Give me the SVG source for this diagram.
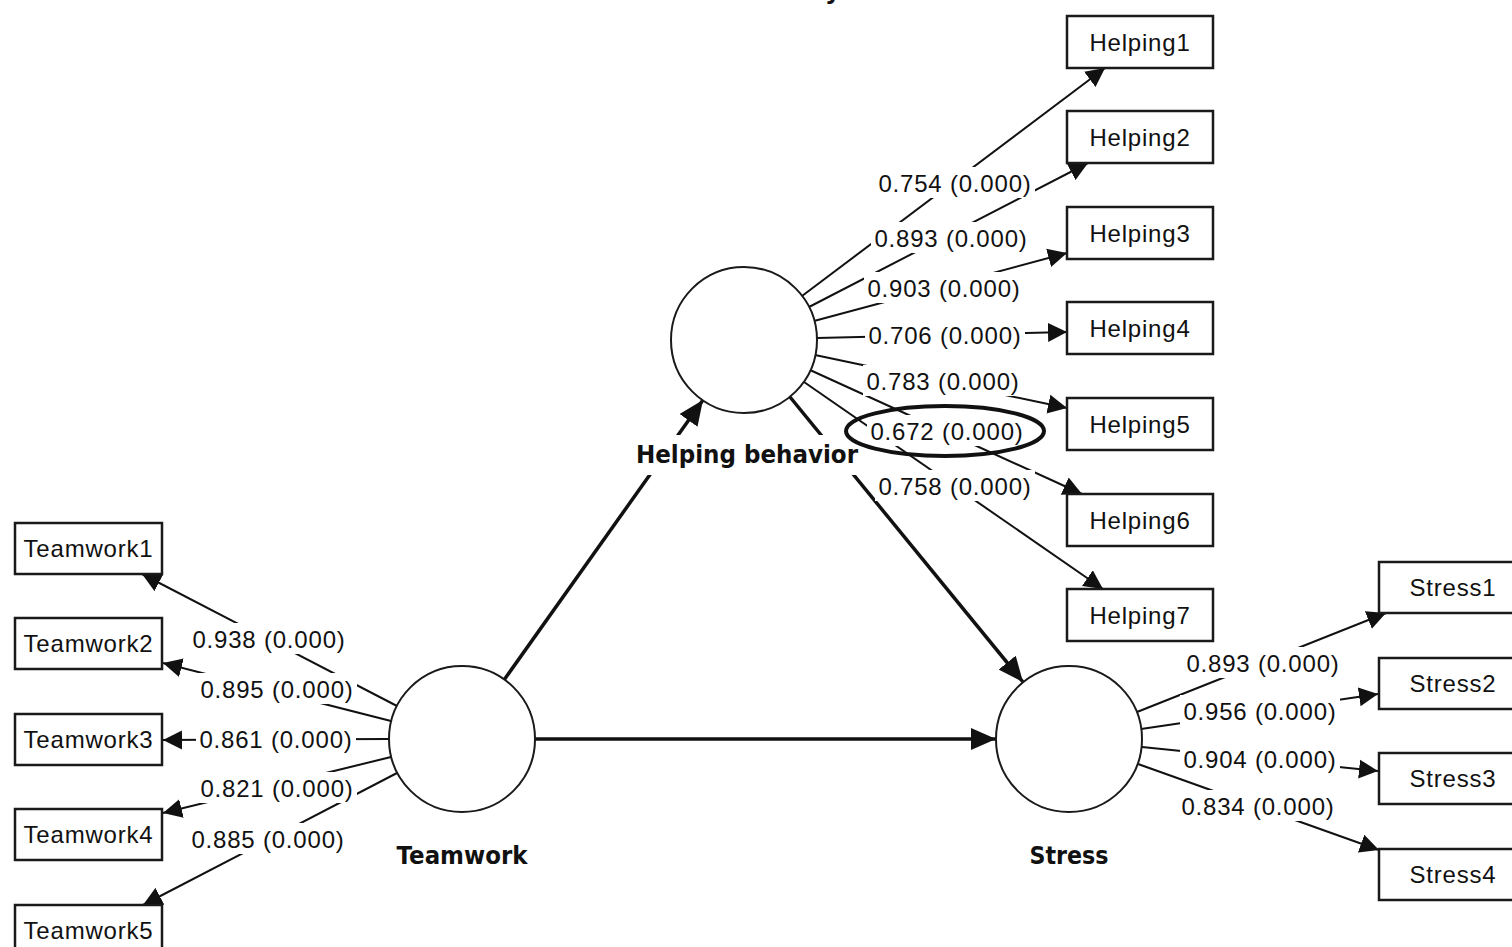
<svg xmlns="http://www.w3.org/2000/svg" width="1512" height="947" viewBox="0 0 1512 947">
  <style>
    .box { fill: #fff; stroke: #1a1a1a; stroke-width: 2.5; }
    .lv { fill: #fff; stroke: #1a1a1a; stroke-width: 2; }
    .name { font-family: "Liberation Sans", Arial, sans-serif; font-size: 24px; letter-spacing: 0.8px; text-anchor: middle; fill: #111; }
    .lbl { font-family: "Liberation Sans", Arial, sans-serif; font-size: 24px; letter-spacing: 0.8px; text-anchor: middle; fill: #111; }
    .bold { font-family: "DejaVu Sans", Verdana, sans-serif; font-weight: bold; font-size: 24px; text-anchor: middle; fill: #111; }
    .load { stroke: #111; stroke-width: 2; fill: none; marker-end: url(#ah); }
    .path { stroke: #111; stroke-width: 3.5; fill: none; marker-end: url(#ahb); }
    .bg { fill: #fff; }
  </style>
  <defs>
    <marker id="ah" markerUnits="userSpaceOnUse" markerWidth="20" markerHeight="20" viewBox="0 0 20 20" refX="19" refY="10" orient="auto">
      <path d="M0,0.5 L19,10 L0,19.5 z" fill="#111"/>
    </marker>
    <marker id="ahb" markerUnits="userSpaceOnUse" markerWidth="26" markerHeight="22" viewBox="0 0 26 22" refX="25" refY="11" orient="auto">
      <path d="M0,0 L25,11 L0,22 z" fill="#111"/>
    </marker>
  </defs>

  <rect width="1512" height="947" fill="#fff"/>

  <!-- title, cut off at the top edge -->
  <text x="825" y="-1" class="bold" style="text-anchor:start">y</text>

  <g id="connectors">
    <!-- structural paths -->
    <line class="path" x1="504" y1="680" x2="703" y2="400"/>
    <line class="path" x1="790" y1="397" x2="1023" y2="682"/>
    <line class="path" x1="535" y1="739" x2="996" y2="739"/>
    <!-- Helping behavior loadings -->
    <line class="load" x1="802" y1="296" x2="1105" y2="68"/>
    <line class="load" x1="809" y1="307" x2="1088" y2="163"/>
    <line class="load" x1="814" y1="321" x2="1067" y2="253"/>
    <line class="load" x1="817" y1="338" x2="1067" y2="332"/>
    <line class="load" x1="815" y1="355" x2="1067" y2="408"/>
    <line class="load" x1="810" y1="370" x2="1082" y2="494"/>
    <line class="load" x1="804" y1="382" x2="1103" y2="589"/>
    <!-- Teamwork loadings -->
    <line class="load" x1="397" y1="706" x2="142" y2="574"/>
    <line class="load" x1="391" y1="721" x2="163" y2="663"/>
    <line class="load" x1="389" y1="739" x2="163" y2="740"/>
    <line class="load" x1="391" y1="757" x2="163" y2="813"/>
    <line class="load" x1="397" y1="773" x2="143" y2="905"/>
    <!-- Stress loadings -->
    <line class="load" x1="1137" y1="712" x2="1386" y2="613"/>
    <line class="load" x1="1141" y1="729" x2="1378" y2="694"/>
    <line class="load" x1="1142" y1="747" x2="1378" y2="771"/>
    <line class="load" x1="1138" y1="764" x2="1379" y2="850"/>
  </g>

  <!-- label backgrounds break the lines behind them -->
  <g id="label-backs" class="bg">
    <rect x="875" y="167" width="160" height="31"/>
    <rect x="871" y="222" width="160" height="31"/>
    <rect x="864" y="272" width="160" height="31"/>
    <rect x="865" y="319" width="160" height="31"/>
    <rect x="863" y="365" width="160" height="31"/>
    <rect x="867" y="415" width="160" height="31"/>
    <rect x="875" y="470" width="160" height="31"/>
    <rect x="189" y="623" width="160" height="31"/>
    <rect x="197" y="673" width="160" height="31"/>
    <rect x="196" y="723" width="160" height="31"/>
    <rect x="197" y="772" width="160" height="31"/>
    <rect x="188" y="823" width="160" height="31"/>
    <rect x="1183" y="647" width="160" height="31"/>
    <rect x="1180" y="695" width="160" height="31"/>
    <rect x="1180" y="743" width="160" height="31"/>
    <rect x="1178" y="790" width="160" height="31"/>
    <rect x="630" y="435" width="236" height="40"/>
  </g>

  <g id="loading-labels">
    <text class="lbl" x="955" y="192">0.754 (0.000)</text>
    <text class="lbl" x="951" y="247">0.893 (0.000)</text>
    <text class="lbl" x="944" y="297">0.903 (0.000)</text>
    <text class="lbl" x="945" y="344">0.706 (0.000)</text>
    <text class="lbl" x="943" y="390">0.783 (0.000)</text>
    <text class="lbl" x="947" y="440">0.672 (0.000)</text>
    <text class="lbl" x="955" y="495">0.758 (0.000)</text>
    <text class="lbl" x="269" y="648">0.938 (0.000)</text>
    <text class="lbl" x="277" y="698">0.895 (0.000)</text>
    <text class="lbl" x="276" y="748">0.861 (0.000)</text>
    <text class="lbl" x="277" y="797">0.821 (0.000)</text>
    <text class="lbl" x="268" y="848">0.885 (0.000)</text>
    <text class="lbl" x="1263" y="672">0.893 (0.000)</text>
    <text class="lbl" x="1260" y="720">0.956 (0.000)</text>
    <text class="lbl" x="1260" y="768">0.904 (0.000)</text>
    <text class="lbl" x="1258" y="815">0.834 (0.000)</text>
  </g>

  <!-- highlight around one loading -->
  <ellipse cx="945" cy="431" rx="99" ry="25" fill="none" stroke="#111" stroke-width="4"/>

  <!-- latent variables -->
  <g id="helping-behavior">
    <circle class="lv" cx="744" cy="340" r="73"/>
    <text class="bold" x="747" y="463" textLength="222" lengthAdjust="spacingAndGlyphs">Helping behavior</text>
  </g>
  <g id="teamwork">
    <circle class="lv" cx="462" cy="739" r="73"/>
    <text class="bold" x="462" y="864" textLength="131" lengthAdjust="spacingAndGlyphs">Teamwork</text>
  </g>
  <g id="stress">
    <circle class="lv" cx="1069" cy="739" r="73"/>
    <text class="bold" x="1069" y="864" textLength="79" lengthAdjust="spacingAndGlyphs">Stress</text>
  </g>

  <!-- indicators -->
  <g id="helping1"><rect class="box" x="1067" y="16" width="146" height="52"/><text class="name" x="1140" y="50.5">Helping1</text></g>
  <g id="helping2"><rect class="box" x="1067" y="111" width="146" height="52"/><text class="name" x="1140" y="145.5">Helping2</text></g>
  <g id="helping3"><rect class="box" x="1067" y="207" width="146" height="52"/><text class="name" x="1140" y="241.5">Helping3</text></g>
  <g id="helping4"><rect class="box" x="1067" y="302" width="146" height="52"/><text class="name" x="1140" y="336.5">Helping4</text></g>
  <g id="helping5"><rect class="box" x="1067" y="398" width="146" height="52"/><text class="name" x="1140" y="432.5">Helping5</text></g>
  <g id="helping6"><rect class="box" x="1067" y="494" width="146" height="52"/><text class="name" x="1140" y="528.5">Helping6</text></g>
  <g id="helping7"><rect class="box" x="1067" y="589" width="146" height="52"/><text class="name" x="1140" y="623.5">Helping7</text></g>

  <g id="teamwork1"><rect class="box" x="15" y="523" width="147" height="51"/><text class="name" x="88.5" y="557">Teamwork1</text></g>
  <g id="teamwork2"><rect class="box" x="15" y="618" width="147" height="51"/><text class="name" x="88.5" y="652">Teamwork2</text></g>
  <g id="teamwork3"><rect class="box" x="15" y="714" width="147" height="51"/><text class="name" x="88.5" y="748">Teamwork3</text></g>
  <g id="teamwork4"><rect class="box" x="15" y="809" width="147" height="51"/><text class="name" x="88.5" y="843">Teamwork4</text></g>
  <g id="teamwork5"><rect class="box" x="15" y="905" width="147" height="51"/><text class="name" x="88.5" y="939">Teamwork5</text></g>

  <g id="stress1"><rect class="box" x="1379" y="562" width="148" height="51"/><text class="name" x="1453" y="596">Stress1</text></g>
  <g id="stress2"><rect class="box" x="1379" y="658" width="148" height="51"/><text class="name" x="1453" y="692">Stress2</text></g>
  <g id="stress3"><rect class="box" x="1379" y="753" width="148" height="51"/><text class="name" x="1453" y="787">Stress3</text></g>
  <g id="stress4"><rect class="box" x="1379" y="849" width="148" height="51"/><text class="name" x="1453" y="883">Stress4</text></g>
</svg>
